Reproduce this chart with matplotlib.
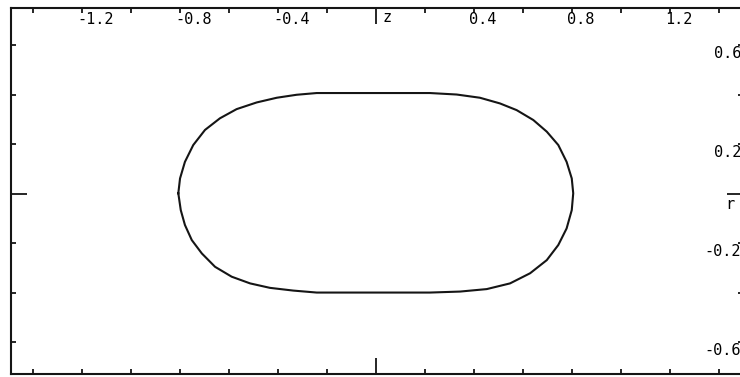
import matplotlib
matplotlib.use("Agg")
import matplotlib.pyplot as plt
import matplotlib.transforms as mtrans

# Contour of the body in the (z, r) plane
z_vals = [-0.807, -0.800, -0.780, -0.746, -0.698, -0.637, -0.569, -0.487, -0.405, -0.324, -0.242,
          0.220, 0.329, 0.424, 0.506, 0.574, 0.642, 0.697, 0.744, 0.778, 0.799, 0.805,
          0.799, 0.778, 0.744, 0.697, 0.629, 0.547, 0.452, 0.343, 0.220,
          -0.242, -0.338, -0.433, -0.514, -0.589, -0.657, -0.711, -0.752, -0.780, -0.797, -0.807]
r_vals = [0.001, 0.061, 0.128, 0.196, 0.257, 0.304, 0.341, 0.368, 0.387, 0.399, 0.406,
          0.406, 0.400, 0.387, 0.364, 0.337, 0.297, 0.250, 0.196, 0.128, 0.061, 0.001,
          -0.067, -0.141, -0.208, -0.269, -0.322, -0.363, -0.386, -0.396, -0.400,
          -0.400, -0.392, -0.381, -0.363, -0.336, -0.296, -0.242, -0.188, -0.127, -0.067, 0.001]

x_minor_ticks = [-1.4, -1.2, -1.0, -0.8, -0.6, -0.4, -0.2, 0.2, 0.4, 0.6, 0.8, 1.0, 1.2, 1.4]
y_minor_ticks = [-0.6, -0.4, -0.2, 0.2, 0.4, 0.6]
x_label_values = [-1.2, -0.8, -0.4, 0.4, 0.8, 1.2]
y_label_values = [0.6, 0.2, -0.2, -0.6]
x_axis_name = "z"
y_axis_name = "r"

W, H = 740, 377
fig = plt.figure(figsize=(W / 100, H / 100), dpi=100)
fig.patch.set_facecolor("white")
ax = fig.add_axes([10.5 / W, 3 / H, 732.5 / W, 366 / H])
ax.set_xlim(-1.492, 1.498)
ax.set_ylim(-0.729, 0.7495)

ink = "#151515"
ax.plot(z_vals, r_vals, color=ink, lw=1.5, solid_joinstyle="round")

for s in ax.spines.values():
    s.set_linewidth(1.5)
    s.set_color(ink)

ax.set_xticks([0])
ax.set_xticks(x_minor_ticks, minor=True)
ax.set_yticks([0])
ax.set_yticks(y_minor_ticks, minor=True)
ax.tick_params(which="both", direction="in", top=True, bottom=True, left=True, right=True,
               labelbottom=False, labelleft=False, labeltop=False, labelright=False,
               color=ink, width=1.3)
ax.tick_params(which="major", length=11.5)
ax.tick_params(which="minor", length=3.8)

font = dict(family="DejaVu Sans Mono", size=11, color="#000000")

def off(dx, dy):
    return mtrans.ScaledTranslation(dx / 100, dy / 100, fig.dpi_scale_trans)

top_tr = mtrans.blended_transform_factory(ax.transData, ax.transAxes)
right_tr = mtrans.blended_transform_factory(ax.transAxes, ax.transData)

for v in x_label_values:
    ax.text(v, 1.0, f"{v:.1f}", transform=top_tr + off(-5, -12), ha="left", va="center", **font)
for v in y_label_values:
    ax.text(1.0, v, f"{v:.1f}", transform=right_tr + off(-2, -8), ha="right", va="center", **font)

ax.text(0, 1.0, x_axis_name, transform=top_tr + off(11, -9), ha="center", va="center", **font)
ax.text(1.0, 0, y_axis_name, transform=right_tr + off(-13, -11), ha="center", va="center", **font)

fig.savefig("out.png", dpi=100, facecolor="white")
